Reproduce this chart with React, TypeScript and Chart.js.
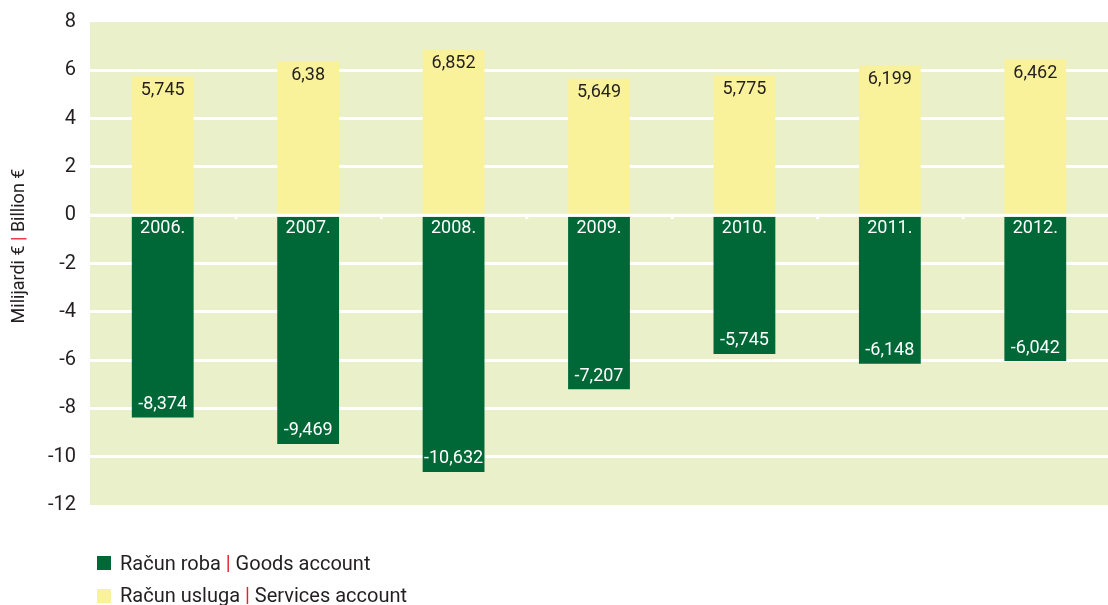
import React, { useEffect, useRef } from 'react';
import { Chart, registerables } from 'chart.js';

Chart.register(...registerables);

const years = ['2006.', '2007.', '2008.', '2009.', '2010.', '2011.', '2012.'];
const goods = [-8.374, -9.469, -10.632, -7.207, -5.745, -6.148, -6.042];
const services = [5.745, 6.38, 6.852, 5.649, 5.775, 6.199, 6.462];
const yMin = -12;
const yMax = 8;
const yStep = 2;
const goodsLabel = ['Račun roba', 'Goods account'];
const servicesLabel = ['Račun usluga', 'Services account'];
const axisTitle = ['Milijardi €', 'Billion €'];

const GREEN = '#006837';
const YELLOW = '#f9f29b';
const BG = '#eaf0c9';
const TEXT = '#231f20';
const RED = '#e2232a';
const FONT = 'Roboto';

const fmt = (v: number) => String(Math.abs(v)).replace('.', ',');

function drawSplit(ctx: CanvasRenderingContext2D, parts: string[], x: number, y: number, align: 'left' | 'center') {
  const a = parts[0] + ' ';
  const sep = '|';
  const b = ' ' + parts[1];
  const wa = ctx.measureText(a).width;
  const ws = ctx.measureText(sep).width;
  const wb = ctx.measureText(b).width;
  const sx = align === 'center' ? x - (wa + ws + wb) / 2 : x;
  ctx.textAlign = 'left';
  ctx.fillStyle = TEXT;
  ctx.fillText(a, sx, y);
  ctx.fillStyle = RED;
  ctx.fillText(sep, sx + wa, y);
  ctx.fillStyle = TEXT;
  ctx.fillText(b, sx + wa + ws, y);
}

const decorPlugin = {
  id: 'decor',
  beforeDraw(chart: any) {
    const { ctx, chartArea } = chart;
    ctx.save();
    ctx.fillStyle = BG;
    ctx.fillRect(chartArea.left, chartArea.top, chartArea.right - chartArea.left, chartArea.bottom - chartArea.top);
    ctx.restore();
  },
  afterDatasetsDraw(chart: any) {
    const { ctx, chartArea, scales } = chart;
    const y0 = scales.y.getPixelForValue(0);
    ctx.save();
    ctx.fillStyle = '#ffffff';
    ctx.fillRect(chartArea.left, y0 - 1.5, chartArea.right - chartArea.left, 3);
    const n = years.length;
    const cw = (chartArea.right - chartArea.left) / n;
    for (let i = 1; i < n; i++) {
      const x = chartArea.left + cw * i;
      ctx.fillRect(x - 1, y0, 3, 4);
    }
    ctx.textBaseline = 'middle';
    ctx.textAlign = 'center';
    ctx.font = `18px ${FONT}`;
    const metaG = chart.getDatasetMeta(0);
    const metaS = chart.getDatasetMeta(1);
    metaS.data.forEach((el: any, i: number) => {
      ctx.fillStyle = TEXT;
      ctx.fillText(fmt(services[i]), el.x, el.y + 14);
    });
    metaG.data.forEach((el: any, i: number) => {
      ctx.fillStyle = '#ffffff';
      ctx.fillText(years[i], el.x, y0 + 13);
      ctx.fillText('-' + fmt(goods[i]), el.x, el.y - 13);
    });
    ctx.font = `18px ${FONT}`;
    ctx.save();
    ctx.translate(19, 246);
    ctx.rotate(-Math.PI / 2);
    drawSplit(ctx, axisTitle, 0, 0, 'center');
    ctx.restore();
    ctx.font = `20px ${FONT}`;
    ctx.fillStyle = GREEN;
    ctx.fillRect(97, 556, 14, 14);
    drawSplit(ctx, goodsLabel, 120, 565, 'left');
    ctx.fillStyle = YELLOW;
    ctx.fillRect(97, 589, 14, 14);
    drawSplit(ctx, servicesLabel, 120, 597, 'left');
    ctx.restore();
  },
};

export default function App() {
  const ref = useRef<HTMLCanvasElement | null>(null);
  useEffect(() => {
    if (!ref.current) return;
    const chart = new Chart(ref.current, {
      type: 'bar',
      data: {
        labels: years,
        datasets: [
          { label: goodsLabel.join(' | '), data: goods, backgroundColor: GREEN },
          { label: servicesLabel.join(' | '), data: services, backgroundColor: YELLOW },
        ],
      },
      options: {
        responsive: false,
        animation: false,
        devicePixelRatio: 1,
        layout: { padding: { top: 22, bottom: 100, left: 0, right: 0 } },
        datasets: { bar: { barPercentage: 0.425, categoryPercentage: 1 } },
        plugins: { legend: { display: false }, tooltip: { enabled: false } },
        scales: {
          x: { stacked: true, display: false },
          y: {
            stacked: true,
            min: yMin,
            max: yMax,
            afterFit: (s: any) => {
              s.width = 90;
              s.paddingTop = 0;
              s.paddingBottom = 0;
            },
            border: { display: false },
            grid: {
              drawTicks: false,
              lineWidth: 3,
              color: (c: any) => (c.tick && (c.tick.value === yMin || c.tick.value === yMax) ? 'rgba(0,0,0,0)' : '#ffffff'),
            },
            ticks: {
              stepSize: yStep,
              padding: 14,
              color: TEXT,
              font: { family: FONT, size: 20 },
            },
          },
        },
      },
      plugins: [decorPlugin],
    } as any);
    return () => chart.destroy();
  }, []);
  return (
    <div style={{ position: 'fixed', left: 0, top: 0, width: 1108, height: 605, background: '#fff' }}>
      <canvas ref={ref} width={1108} height={605} />
    </div>
  );
}
